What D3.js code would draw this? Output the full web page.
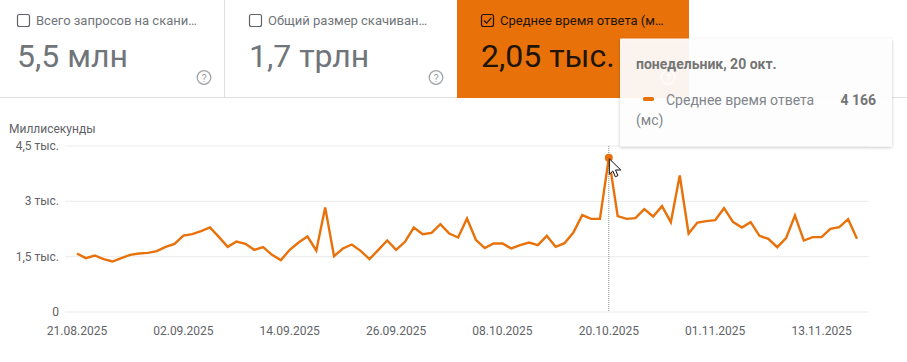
<!DOCTYPE html>
<html>
<head>
<meta charset="utf-8">
<script src="https://d3js.org/d3.v7.min.js"></script>
<style>
html, body { margin: 0; padding: 0; background: #fff; overflow: hidden; }
svg { display: block; font-family: Roboto, sans-serif; }
.domain { display: none; }
</style>
</head>
<body>
<script>
var width = 907;
var height = 362;
var orange = '#e8710a';
var grey = '#5f6368';

var startDate = new Date(Date.UTC(2025, 7, 21));
var responseMs = [1572, 1446, 1518, 1419, 1355, 1446, 1536, 1572, 1590, 1636, 1753, 1834, 2060, 2097, 2178, 2277, 2024, 1753, 1898, 1834,
	1672, 1744, 1536, 1392, 1672, 1871, 2033, 1654, 2820, 1500, 1708, 1816, 1645, 1419, 1672, 1925, 1672, 1889, 2277, 2097,
	2133, 2368, 2115, 2006, 2522, 1943, 1717, 1844, 1844, 1708, 1798, 1871, 1798, 2051, 1753, 1853, 2142, 2612, 2512, 2512,
	4166, 2584, 2512, 2530, 2774, 2575, 2855, 2421, 3687, 2114, 2412, 2449, 2476, 2801, 2430, 2277, 2421, 2051, 1969, 1743,
	1987, 2602, 1924, 2015, 2015, 2241, 2286, 2503, 1969];
var yTicks = [0, 1500, 3000, 4500];
var yTickLabels = ['0', '1,5 тыс.', '3 тыс.', '4,5 тыс.'];
var xTickLabels = ['21.08.2025', '02.09.2025', '14.09.2025', '26.09.2025', '08.10.2025', '20.10.2025', '01.11.2025', '13.11.2025'];
var cardTitles = ['Всего запросов на скани…', 'Общий размер скачиван…', 'Среднее время ответа (м…'];
var cardValues = ['5,5 млн', '1,7 трлн', '2,05 тыс.'];
var hoverIndex = 60;

var svg = d3.select('body').append('svg')
	.attr('width', width)
	.attr('height', height);

function drawHelp(g, cx, cy, color) {
	g.append('circle').attr('cx', cx).attr('cy', cy).attr('r', 6.8)
		.attr('fill', 'none').attr('stroke', color).attr('stroke-width', 1.3);
	g.append('text').attr('x', cx).attr('y', cy + 4).attr('text-anchor', 'middle')
		.attr('font-size', 11).attr('fill', color).text('?');
}

function drawCards() {
	var cardX = [0, 225, 457];
	var cardW = [224, 232, 232];
	var iconX = [204, 436, 668];
	var g = svg.append('g');

	g.append('line').attr('x1', 0).attr('x2', width).attr('y1', 97.5).attr('y2', 97.5).attr('stroke', '#e0e0e0');
	g.append('line').attr('x1', 224.5).attr('x2', 224.5).attr('y1', 0).attr('y2', 97).attr('stroke', '#e0e0e0');

	cardTitles.forEach(function(title, i) {
		var active = i === 2;
		var textColor = active ? '#201408' : '#70757a';
		if (active) {
			g.append('rect').attr('x', cardX[i]).attr('y', 0).attr('width', cardW[i]).attr('height', 98).attr('fill', orange);
		}
		var x = cardX[i] + (i === 0 ? 17 : 24);
		g.append('rect').attr('x', x + 0.5).attr('y', 14.5).attr('width', 12).attr('height', 12).attr('rx', 2)
			.attr('fill', 'none').attr('stroke', active ? textColor : grey).attr('stroke-width', 1.2);
		if (active) {
			g.append('path').attr('d', 'M' + (x + 3) + ' 20.5l2.6 2.6l4.6-5.2')
				.attr('fill', 'none').attr('stroke', textColor).attr('stroke-width', 1.3);
		}
		g.append('text').attr('x', x + 19).attr('y', 25).attr('font-size', 13).attr('fill', textColor).text(title);
		g.append('text').attr('x', x).attr('y', 67).attr('font-size', 32).attr('fill', textColor).text(cardValues[i]);
		drawHelp(g, iconX[i], 77.5, active ? '#fff' : '#a0a4a8');
	});
}

function drawChart() {
	var x = d3.scaleUtc()
		.domain([startDate, d3.utcDay.offset(startDate, 88)])
		.range([77, 857]);
	var y = d3.scaleLinear()
		.domain([0, 4500])
		.range([311.5, 145.5]);

	var dates = responseMs.map(function(d, i) { return d3.utcDay.offset(startDate, i); });
	var chart = svg.append('g');

	chart.append('text').attr('x', 9).attr('y', 133).attr('font-size', 12).attr('fill', grey).text('Миллисекунды');

	var yAxis = d3.axisLeft(y)
		.tickValues(yTicks)
		.tickSize(-804)
		.tickPadding(6)
		.tickFormat(function(d, i) { return yTickLabels[i]; });
	var yGroup = chart.append('g').attr('transform', 'translate(65,0)').call(yAxis);
	yGroup.selectAll('line').attr('stroke', '#ebebeb');
	yGroup.selectAll('text').attr('font-size', 12).attr('fill', grey).attr('font-family', 'Roboto');

	var xAxis = d3.axisBottom(x)
		.tickValues(xTickLabels.map(function(d, i) { return d3.utcDay.offset(startDate, i * 12); }))
		.tickSize(0)
		.tickPadding(11)
		.tickFormat(function(d, i) { return xTickLabels[i]; });
	var xGroup = chart.append('g').attr('transform', 'translate(-0.5,315)').call(xAxis);
	xGroup.selectAll('text').attr('font-size', 12).attr('fill', grey).attr('font-family', 'Roboto');

	var hoverX = x(dates[hoverIndex]);
	chart.append('line').attr('x1', hoverX).attr('x2', hoverX).attr('y1', 146).attr('y2', 311)
		.attr('stroke', '#80868b').attr('stroke-dasharray', '1,1');

	var line = d3.line()
		.x(function(d, i) { return x(dates[i]); })
		.y(function(d) { return y(d); });
	chart.append('path').attr('d', line(responseMs))
		.attr('fill', 'none').attr('stroke', orange).attr('stroke-width', 2.4);

	chart.append('circle').attr('cx', hoverX).attr('cy', y(responseMs[hoverIndex])).attr('r', 4)
		.attr('fill', orange);

	chart.append('path')
		.attr('transform', 'translate(' + (hoverX + 0.5) + ',' + (y(responseMs[hoverIndex]) + 1) + ')')
		.attr('d', 'M0 0V15.5L3.6 12.2L6 18L8.6 16.8L6.2 11.2H11.5Z')
		.attr('fill', '#fff').attr('stroke', '#111').attr('stroke-width', 1);
}

function drawTooltip() {
	var defs = svg.append('defs');
	var filter = defs.append('filter').attr('id', 'tipShadow')
		.attr('x', '-5%').attr('y', '-5%').attr('width', '110%').attr('height', '115%');
	filter.append('feDropShadow').attr('dx', 0).attr('dy', 1).attr('stdDeviation', 1.5)
		.attr('flood-color', '#000').attr('flood-opacity', 0.25);

	var g = svg.append('g');
	g.append('rect').attr('x', 620).attr('y', 38.5).attr('width', 272).attr('height', 108).attr('rx', 1)
		.attr('fill', '#fff').attr('fill-opacity', 0.92).attr('filter', 'url(#tipShadow)');
	g.append('text').attr('x', 636).attr('y', 69).attr('font-size', 14).attr('font-weight', 700).attr('fill', '#757575')
		.text('понедельник, 20 окт.');
	g.append('rect').attr('x', 643).attr('y', 97).attr('width', 11).attr('height', 4).attr('rx', 1.5).attr('fill', orange);
	g.append('text').attr('x', 666).attr('y', 105).attr('font-size', 14).attr('fill', '#80868b').text('Среднее время ответа');
	g.append('text').attr('x', 636).attr('y', 125).attr('font-size', 14).attr('fill', '#80868b').text('(мс)');
	g.append('text').attr('x', 876).attr('y', 105).attr('text-anchor', 'end').attr('font-size', 14).attr('font-weight', 700)
		.attr('fill', '#757575').text(d3.format(',')(responseMs[hoverIndex]).replace(',', ' '));
}

drawCards();
drawChart();
drawTooltip();
</script>
</body>
</html>
